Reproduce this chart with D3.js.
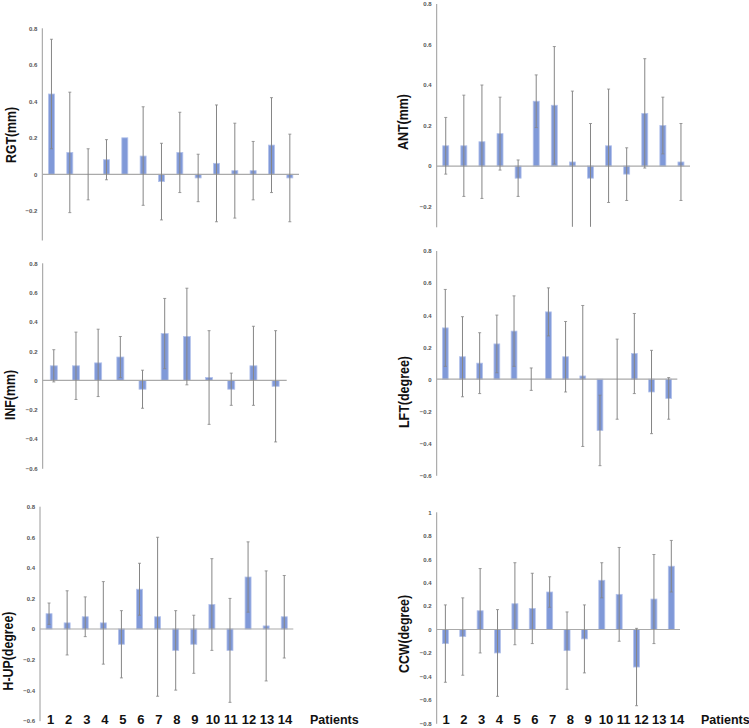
<!DOCTYPE html>
<html><head><meta charset="utf-8">
<script src="https://cdn.jsdelivr.net/npm/d3@7"></script>
<style>html,body{margin:0;padding:0;background:#fff;}svg{display:block;font-family:"Liberation Sans",Arial,sans-serif;}</style>
</head><body>
<svg id="chart" width="749" height="728"></svg>
<script>
// ---------- data ----------
const patients14 = ["1","2","3","4","5","6","7","8","9","10","11","12","13","14"];
const patients11 = ["1","2","3","4","5","6","7","8","9","10","11"];

const rgtMean = [0.44,0.12,0,0.08,0.2,0.1,-0.04,0.12,-0.02,0.06,0.02,0.02,0.16,-0.02];
const rgtSD   = [0.30,0.33,0.14,0.11,0,0.27,0.21,0.22,0.13,0.32,0.26,0.16,0.26,0.24];

const antMean = [0.1,0.1,0.12,0.16,-0.06,0.32,0.3,0.02,-0.06,0.1,-0.04,0.26,0.2,0.02];
const antSD   = [0.14,0.25,0.28,0.18,0.09,0.13,0.29,0.35,0.27,0.28,0.13,0.27,0.14,0.19];

const infMean = [0.1,0.1,0.12,0.16,-0.06,0.32,0.3,0.02,-0.06,0.1,-0.04];
const infSD   = [0.11,0.23,0.23,0.14,0.13,0.24,0.33,0.32,0.11,0.27,0.38];

const lftMean = [0.32,0.14,0.1,0.22,0.3,0,0.42,0.14,0.02,-0.32,0,0.16,-0.08,-0.12];
const lftSD   = [0.24,0.25,0.19,0.18,0.22,0.07,0.15,0.22,0.44,0.22,0.25,0.25,0.26,0.13];

const hupMean = [0.1,0.04,0.08,0.04,-0.1,0.26,0.08,-0.14,-0.1,0.16,-0.14,0.34,0.02,0.08];
const hupSD   = [0.07,0.21,0.13,0.27,0.22,0.17,0.52,0.26,0.19,0.3,0.34,0.23,0.36,0.27];

const ccwMean = [-0.12,-0.06,0.16,-0.2,0.22,0.18,0.32,-0.18,-0.08,0.42,0.3,-0.32,0.26,0.54];
const ccwSD   = [0.33,0.33,0.36,0.37,0.35,0.3,0.13,0.33,0.29,0.15,0.4,0.33,0.38,0.22];

const ticks08_02 = [0.8,0.6,0.4,0.2,0,-0.2];
const ticks08_06 = [0.8,0.6,0.4,0.2,0,-0.2,-0.4,-0.6];
const ticks1_08  = [1,0.8,0.6,0.4,0.2,0,-0.2,-0.4,-0.6,-0.8];

const xTitle = "Patients";

// ---------- layout ----------
const panels = [
  {label:"RGT(mm)", cats:patients14, mean:rgtMean, sd:rgtSD, ticks:ticks08_02,
   domain:[-0.36,0.8], x0:42.3, x1:299, yTop:28.3, yBot:240, barW:6,
   lab:{x:11, y:135, len:56}},
  {label:"ANT(mm)", cats:patients14, mean:antMean, sd:antSD, ticks:ticks08_02,
   domain:[-0.3,0.8], x0:436.7, x1:690, yTop:4, yBot:226.8, barW:6,
   lab:{x:402.5, y:122, len:56}},
  {label:"INF(mm)", cats:patients11, mean:infMean, sd:infSD, ticks:ticks08_06,
   domain:[-0.6,0.8], x0:42.7, x1:286.7, yTop:263.3, yBot:468.3, barW:7,
   lab:{x:10, y:395, len:50}},
  {label:"LFT(degree)", cats:patients14, mean:lftMean, sd:lftSD, ticks:ticks08_06,
   domain:[-0.6,0.8], x0:436.7, x1:677.3, yTop:251, yBot:475.3, barW:5.8,
   lab:{x:403.5, y:392, len:72}},
  {label:"H-UP(degree)", cats:patients14, mean:hupMean, sd:hupSD, ticks:ticks08_06,
   domain:[-0.6,0.8], x0:40, x1:293.3, yTop:506.7, yBot:720.7, barW:6,
   lab:{x:7.8, y:651, len:79},
   xl:{a:50.7, b:285, title:310}},
  {label:"CCW(degree)", cats:patients14, mean:ccwMean, sd:ccwSD, ticks:ticks1_08,
   domain:[-0.8,1], x0:436.7, x1:680, yTop:512.3, yBot:723.3, barW:6,
   lab:{x:404, y:634, len:78},
   xl:{a:446, b:677, title:701}}
];

const svg = d3.select("#chart");

panels.forEach(p => {
  const g = svg.append("g");
  const x = d3.scaleBand().domain(p.cats).range([p.x0, p.x1]).padding(0);
  const y = d3.scaleLinear().domain(p.domain).range([p.yBot, p.yTop]);
  const rows = p.cats.map((c,i) => ({c, m:p.mean[i], s:p.sd[i]}));

  // y axis via d3.axisLeft
  const ax = g.append("g").attr("transform", `translate(${p.x0},0)`)
    .call(d3.axisLeft(y).tickValues(p.ticks).tickSize(0).tickPadding(5)
      .tickFormat(d => d === 0 ? "0" : d3.format("")(+d.toFixed(1))));
  ax.select(".domain").remove();
  ax.selectAll("text").attr("font-size", 6).attr("font-weight", "bold")
    .attr("fill", "#555").attr("font-family", "Liberation Sans, Arial, sans-serif");
  g.append("line").attr("x1", p.x0).attr("x2", p.x0)
    .attr("y1", p.yTop).attr("y2", p.yBot + 0.5)
    .attr("stroke", "#9a9a9a").attr("stroke-width", 1);

  // bars
  g.selectAll("rect.bar").data(rows).join("rect")
    .attr("x", d => x(d.c) + x.bandwidth()/2 - p.barW/2)
    .attr("width", p.barW)
    .attr("y", d => y(Math.max(0, d.m)))
    .attr("height", d => Math.abs(y(d.m) - y(0)))
    .attr("fill", "#8099d8").attr("stroke", "#b4c3ec").attr("stroke-width", 0.8);

  // zero line
  g.append("line").attr("x1", p.x0).attr("x2", p.x1)
    .attr("y1", y(0)).attr("y2", y(0))
    .attr("stroke", "#aaaaaa").attr("stroke-width", 1.2);

  // error bars
  const lo = p.domain[0], hi = p.domain[1];
  rows.filter(d => d.s > 0).forEach(d => {
    const cx = x(d.c) + x.bandwidth()/2;
    const top = Math.min(hi, d.m + d.s), bot = Math.max(lo, d.m - d.s);
    g.append("line").attr("x1", cx).attr("x2", cx)
      .attr("y1", y(top)).attr("y2", y(bot))
      .attr("stroke", "#858585").attr("stroke-width", 1);
    if (d.m + d.s <= hi)
      g.append("line").attr("x1", cx-1.5).attr("x2", cx+1.5)
        .attr("y1", y(top)).attr("y2", y(top)).attr("stroke", "#858585").attr("stroke-width", 0.8);
    if (d.m - d.s >= lo)
      g.append("line").attr("x1", cx-1.5).attr("x2", cx+1.5)
        .attr("y1", y(bot)).attr("y2", y(bot)).attr("stroke", "#858585").attr("stroke-width", 0.8);
  });

  // y label
  g.append("text")
    .attr("transform", `translate(${p.lab.x},${p.lab.y}) rotate(-90)`)
    .attr("text-anchor", "middle").attr("dominant-baseline", "central")
    .attr("font-size", 14).attr("font-weight", "bold").attr("fill", "#111")
    .attr("textLength", p.lab.len).attr("lengthAdjust", "spacingAndGlyphs")
    .text(p.label);

  // x labels for bottom row
  if (p.xl) {
    const xp = d3.scalePoint().domain(p.cats).range([p.xl.a, p.xl.b]);
    g.selectAll("text.xl").data(p.cats).join("text")
      .attr("x", d => xp(d)).attr("y", 724)
      .attr("text-anchor", "middle").attr("font-size", 13).attr("font-weight", "bold")
      .attr("fill", "#111").text(d => d);
    g.append("text").attr("x", p.xl.title).attr("y", 724)
      .attr("font-size", 12.5).attr("font-weight", "bold").attr("fill", "#111")
      .text(xTitle);
  }
});
</script>
</body></html>
